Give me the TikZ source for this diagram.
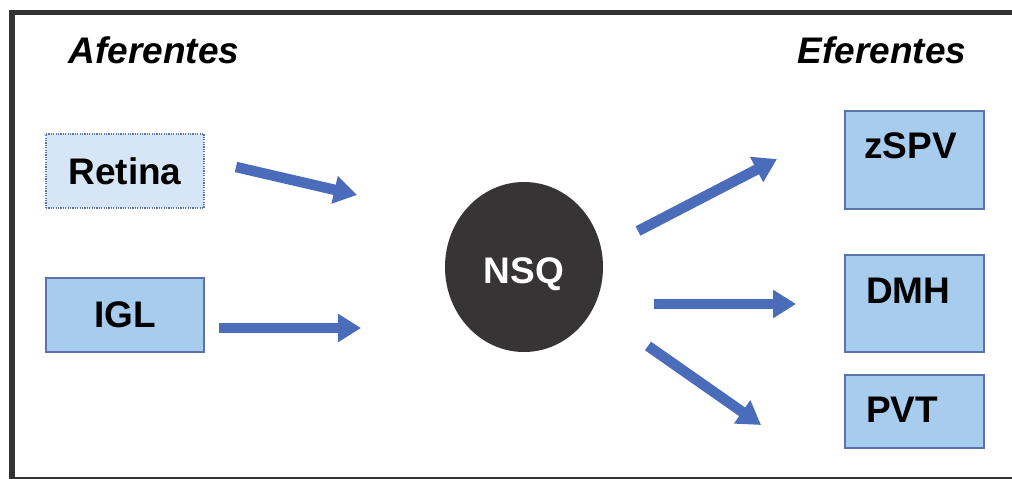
\documentclass[tikz,border=0pt]{standalone}
\usepackage{fontspec}
\setmainfont{Liberation Sans}
\usetikzlibrary{arrows.meta,shapes.geometric}
\definecolor{framegray}{HTML}{333333}
\definecolor{boxfill}{HTML}{A8CCEE}
\definecolor{boxpale}{HTML}{D6E6F6}
\definecolor{boxline}{HTML}{5B72AC}
\definecolor{arrowblue}{HTML}{4A6CBA}
\definecolor{nucleus}{HTML}{363435}

\begin{document}
\begin{tikzpicture}[x=1pt,y=-1pt,
  txt/.style={font=\fontsize{37}{40}\selectfont\bfseries,inner sep=0pt},
  inbox/.style={draw=boxline,line width=2.5pt,fill=boxfill,inner sep=0pt},
  conn/.style={arrowblue,line width=10.5pt,-{Triangle[width=27pt,length=23pt]}}]

\useasboundingbox (0,0) rectangle (1012,479);

% frame
\draw[framegray,line width=5pt] (9,12.5) -- (1012,12.5);
\draw[framegray,line width=6pt] (12,10) -- (12,479);
\draw[framegray,line width=2pt] (12,478) -- (1012,478);

% titles
\node[txt,font=\fontsize{37}{40}\selectfont\bfseries\itshape] (afer) at (154,50) {Aferentes};
\node[txt,font=\fontsize{37}{40}\selectfont\bfseries\itshape] (efer) at (882,50) {Eferentes};

% afferent boxes
\node[inbox,fill=boxpale,dash pattern=on 1.2pt off 1.2pt,line width=2pt,
      minimum width=158pt,minimum height=74pt,txt] (retina) at (125,171) {Retina};
\node[inbox,minimum width=158pt,minimum height=74pt,txt] (igl) at (125,315) {IGL};

% nucleus
\node[ellipse,fill=nucleus,minimum width=158pt,minimum height=170pt,inner sep=0pt] (nsq) at (524,267) {};
\node[txt,white] (nsqtxt) at (524,274) {NSQ};

% efferent boxes
\node[inbox,minimum width=139pt,minimum height=98pt] (zspv) at (914.5,160) {};
\node[inbox,minimum width=139pt,minimum height=97pt] (dmh) at (914.5,303.5) {};
\node[inbox,minimum width=139pt,minimum height=73pt] (pvt) at (914.5,411.5) {};
\node[txt,anchor=base west] (zspvtxt) at (864,158) {zSPV};
\node[txt,anchor=base west] (dmhtxt) at (866,303) {DMH};
\node[txt,anchor=base west] (pvttxt) at (866,422) {PVT};

% arrow ends
\coordinate (r1) at (236,167);
\coordinate (r2) at (357,195);
\coordinate (i1) at (219,328);
\coordinate (i2) at (361,328);
\coordinate (z1) at (638,231);
\coordinate (z2) at (777,159);
\coordinate (d1) at (654,304);
\coordinate (d2) at (796,304);
\coordinate (p1) at (648,346);
\coordinate (p2) at (761,425);

\draw[conn] (r1) -- (r2);
\draw[conn] (i1) -- (i2);
\draw[conn] (z1) -- (z2);
\draw[conn] (d1) -- (d2);
\draw[conn] (p1) -- (p2);

\end{tikzpicture}
\end{document}
